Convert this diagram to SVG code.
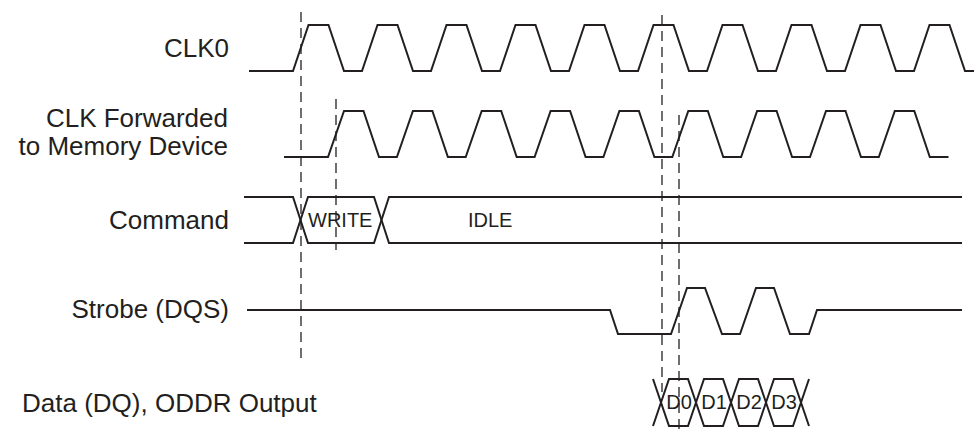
<svg xmlns="http://www.w3.org/2000/svg" width="974" height="432" viewBox="0 0 974 432">
<style>
.sig{fill:none;stroke:#231f20;stroke-width:2;stroke-linejoin:miter}
.dash{fill:none;stroke:#231f20;stroke-width:1.3;stroke-dasharray:10 6}
.lbl{font-family:"Liberation Sans",Arial,sans-serif;font-size:26px;fill:#231f20}
.sm{font-family:"Liberation Sans",Arial,sans-serif;font-size:20px;fill:#231f20}
</style>
<rect width="974" height="432" fill="#fff"/>
<g id="clk0">
<text class="lbl" x="229" y="57" text-anchor="end">CLK0</text>
<polyline class="sig" points="249,71 293,71 308.5,25 328.5,25 344,71 362,71 377.5,25 397.5,25 413,71 431,71 446.5,25 466.5,25 482,71 500,71 515.5,25 535.5,25 551,71 569,71 584.5,25 604.5,25 620,71 638,71 653.5,25 673.5,25 689,71 707,71 722.5,25 742.5,25 758,71 776,71 791.5,25 811.5,25 827,71 845,71 860.5,25 880.5,25 896,71 914,71 929.5,25 949.5,25 965,71 974,71"/>
</g>
<g id="clkfwd">
<text class="lbl" x="228" y="127" text-anchor="end">CLK Forwarded</text>
<text class="lbl" x="228" y="155" text-anchor="end">to Memory Device</text>
<polyline class="sig" points="284,157 328,157 344,111 363.5,111 379,157 396.9,157 412.9,111 432.4,111 447.9,157 465.7,157 481.7,111 501.2,111 516.7,157 534.6,157 550.6,111 570.1,111 585.6,157 603.4,157 619.4,111 638.9,111 654.4,157 672.3,157 688.3,111 707.8,111 723.3,157 741.1,157 757.1,111 776.6,111 792.1,157 810,157 826,111 845.5,111 861,157 878.8,157 894.8,111 914.3,111 929.8,157 948.5,157"/>
</g>
<g id="command">
<text class="lbl" x="229" y="229" text-anchor="end">Command</text>
<polyline class="sig" points="244,197 293,197 308,243 374,243 389,197 962,197"/>
<polyline class="sig" points="244,243 293,243 308,197 374,197 389,243 962,243"/>
<text class="sm" x="308" y="227">WRITE</text>
<text class="sm" x="468" y="227">IDLE</text>
</g>
<g id="strobe">
<text class="lbl" x="229" y="318" text-anchor="end">Strobe (DQS)</text>
<polyline class="sig" points="247,310 610,310 618,334 671,334 687,288 705,288 722,334 740,334 756,288 774,288 790,334 809,334 817,310 962,310"/>
</g>
<g id="data">
<text class="lbl" x="22" y="412">Data (DQ), ODDR Output</text>
<polyline class="sig" points="653,379 669,426 688,426 704,379 723,379 739,426 758,426 774,379 793,379 809,426"/>
<polyline class="sig" points="653,426 669,379 688,379 704,426 723,426 739,379 758,379 774,426 793,426 809,379"/>
<text class="sm" x="679" y="409" text-anchor="middle">D0</text>
<text class="sm" x="714" y="409" text-anchor="middle">D1</text>
<text class="sm" x="749" y="409" text-anchor="middle">D2</text>
<text class="sm" x="784" y="409" text-anchor="middle">D3</text>
</g>
<g id="connectors">
<line class="dash" x1="301" y1="12" x2="301" y2="358"/>
<line class="dash" x1="336" y1="99" x2="336" y2="250"/>
<line class="dash" x1="662" y1="15" x2="662" y2="392"/>
<line class="dash" x1="679" y1="115" x2="679" y2="432"/>
</g>
</svg>
